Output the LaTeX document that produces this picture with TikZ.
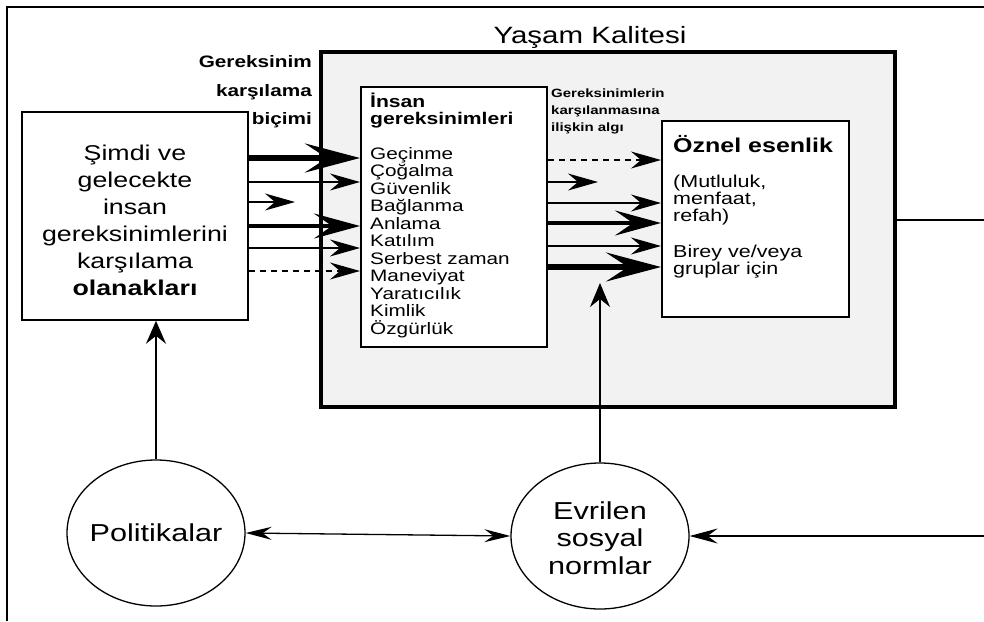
\documentclass[tikz,border=0pt]{standalone}
\usepackage{fontspec}
\setmainfont{Liberation Sans}[FakeStretch=1.25]
\usetikzlibrary{arrows.meta,shapes.geometric}
\definecolor{bgfill}{HTML}{F2F2F2}
\begin{document}
\begin{tikzpicture}[x=1pt,y=-1pt,
  box/.style={draw,line width=1.6pt,fill=white,inner sep=0pt},
  thinarr/.style={line width=1.3pt,-{Stealth[length=30pt,width=17pt,inset=10pt]}},
  thickarr/.style={line width=4pt,-{Stealth[length=46pt,width=25pt,inset=18pt]}},
  vthickarr/.style={line width=6pt,-{Stealth[length=55pt,width=29pt,inset=22pt]}},
  dasharr/.style={thinarr,dash pattern=on 6pt off 5pt},
  uparr/.style={line width=1.3pt,-{Stealth[length=24pt,width=20pt,inset=8pt]}},
  itemtxt/.style={anchor=base west,inner sep=0pt,font=\fontsize{16.6}{17.5}\selectfont},
  ovaltxt/.style={font=\fontsize{24.5}{27.5}\selectfont,align=center,inner sep=0pt},
  oval/.style={draw,ellipse,line width=1.3pt,fill=white,minimum width=178pt,minimum height=146pt,inner sep=0pt}
]
\useasboundingbox (0,0) rectangle (984,621);
% outer frame
\draw[line width=2.5pt] (984,7) -- (7,7) -- (7,621);

% Yasam Kalitesi box
\node[draw,line width=3.5pt,fill=bgfill,minimum width=574pt,minimum height=355pt,inner sep=0pt] (yasam) at (608,229.5) {};
\node[anchor=base,inner sep=0pt,font=\fontsize{23.6}{26}\selectfont] (ytitle) at (590,43) {Yaşam Kalitesi};

% left box
\node[box,minimum width=226pt,minimum height=208pt] (left) at (135,216) {};
\node[font=\fontsize{21.4}{27}\selectfont,align=center,inner sep=0pt] (lefttxt) at (135,220)
  {Şimdi ve\\gelecekte\\insan\\gereksinimlerini\\karşılama\\\textbf{olanakları}};

% labels over left arrows
\node[anchor=base east,inner sep=0pt,font=\bfseries\fontsize{16.6}{18}\selectfont] (g1) at (312,67) {Gereksinim};
\node[anchor=base east,inner sep=0pt,font=\bfseries\fontsize{16.6}{18}\selectfont] (g2) at (312,96) {karşılama};
\node[anchor=base east,inner sep=0pt,font=\bfseries\fontsize{16.6}{18}\selectfont] (g3) at (312,124) {biçimi};

% insan gereksinimleri box
\node[box,line width=2pt,minimum width=186pt,minimum height=260pt] (ins) at (454,217) {};
\node[anchor=base west,inner sep=0pt,font=\bfseries\fontsize{16.9}{18}\selectfont] (ins1) at (370,107) {İnsan};
\node[anchor=base west,inner sep=0pt,font=\bfseries\fontsize{16.9}{18}\selectfont] (ins2) at (370,124) {gereksinimleri};
\foreach \t [count=\i from 0] in {Geçinme,Çoğalma,Güvenlik,Bağlanma,Anlama,Katılım,Serbest zaman,Maneviyat,Yaratıcılık,Kimlik,Özgürlük}
  \node[itemtxt] (it\i) at (370,{159+17.5*\i}) {\t};

% perception label
\node[anchor=base west,inner sep=0pt,font=\bfseries\fontsize{12}{13}\selectfont] (p1) at (551,97) {Gereksinimlerin};
\node[anchor=base west,inner sep=0pt,font=\bfseries\fontsize{12}{13}\selectfont] (p2) at (551,114) {karşılanmasına};
\node[anchor=base west,inner sep=0pt,font=\bfseries\fontsize{12}{13}\selectfont] (p3) at (551,131) {ilişkin algı};

% oznel esenlik box
\node[box,line width=2pt,minimum width=187pt,minimum height=196pt] (oz) at (755.5,219) {};
\node[anchor=base west,inner sep=0pt,font=\bfseries\fontsize{20}{22}\selectfont] (oz0) at (673,152) {Öznel esenlik};
\node[anchor=base west,inner sep=0pt,font=\fontsize{17.2}{18}\selectfont] (oz1) at (673,187) {(Mutluluk,};
\node[anchor=base west,inner sep=0pt,font=\fontsize{17.2}{18}\selectfont] (oz2) at (673,204) {menfaat,};
\node[anchor=base west,inner sep=0pt,font=\fontsize{17.2}{18}\selectfont] (oz3) at (673,221) {refah)};
\node[anchor=base west,inner sep=0pt,font=\fontsize{17.2}{18}\selectfont] (oz4) at (673,257) {Birey ve/veya};
\node[anchor=base west,inner sep=0pt,font=\fontsize{17.2}{18}\selectfont] (oz5) at (673,274) {gruplar için};

% ellipses
\node[oval] (pol) at (156,533) {};
\node[ovaltxt] (poltxt) at (156,533) {Politikalar};
\node[oval] (evr) at (600,536) {};
\node[ovaltxt] (evrtxt) at (600,538) {Evrilen\\sosyal\\normlar};

% helper y levels
\coordinate (ya) at (0,158);
\coordinate (yb) at (0,182);
\coordinate (yc) at (0,202);
\coordinate (yd) at (0,226);
\coordinate (ye) at (0,248);
\coordinate (yf) at (0,271);
\coordinate (ra) at (0,160);
\coordinate (rb) at (0,182);
\coordinate (rc) at (0,203);
\coordinate (rd) at (0,223);
\coordinate (re) at (0,246);
\coordinate (rf) at (0,267);
\coordinate (shortL) at (295,202);
\coordinate (shortR) at (598,182);
\coordinate (uptip) at (600,283);
\coordinate (outR) at (984,220);
\coordinate (inR) at (984,536);

% left arrows
\draw[vthickarr] (left.east |- ya) -- (ins.west |- ya);
\draw[thinarr] (left.east |- yb) -- (ins.west |- yb);
\draw[thinarr] (left.east |- yc) -- (shortL);
\draw[thickarr] (left.east |- yd) -- (ins.west |- yd);
\draw[thinarr] (left.east |- ye) -- (ins.west |- ye);
\draw[dasharr] (left.east |- yf) -- (ins.west |- yf);

% right arrows
\draw[dasharr] (ins.east |- ra) -- (oz.west |- ra);
\draw[thinarr] (ins.east |- rb) -- (shortR);
\draw[thinarr] (ins.east |- rc) -- (oz.west |- rc);
\draw[thickarr] (ins.east |- rd) -- (oz.west |- rd);
\draw[thinarr] (ins.east |- re) -- (oz.west |- re);
\draw[vthickarr,line width=5.5pt] (ins.east |- rf) -- (oz.west |- rf);

% vertical arrows
\draw[uparr] (evr.north) -- (uptip);
\draw[line width=1.3pt,-{Stealth[length=23pt,width=20pt,inset=8pt]}] (pol.north) -- (pol.north |- left.south);

% bottom connectors
\draw[line width=1.3pt,{Stealth[length=26pt,width=13pt,inset=9pt]}-{Stealth[length=26pt,width=13pt,inset=9pt]}] (pol.east) -- (evr.west);
\draw[line width=1.3pt,-{Stealth[length=28pt,width=15pt,inset=10pt]}] (inR) -- (evr.east);
\draw[line width=1.3pt] (yasam.east |- outR) -- (outR);
\end{tikzpicture}
\end{document}
